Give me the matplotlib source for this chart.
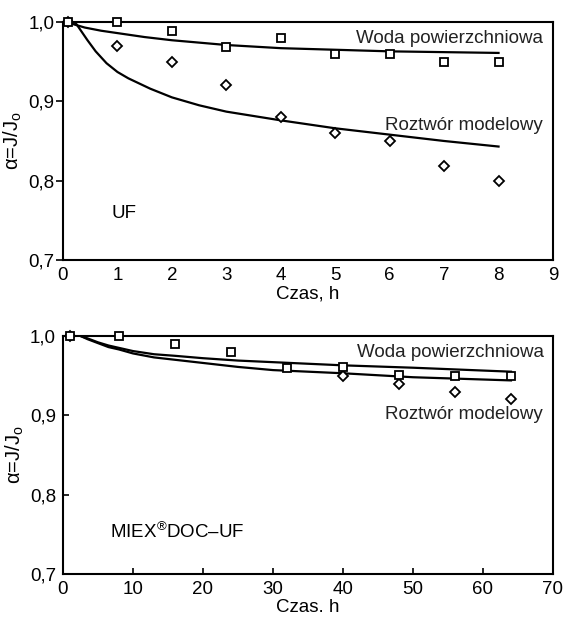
import numpy as np
import matplotlib
matplotlib.use("Agg")
import matplotlib.pyplot as plt
from matplotlib.ticker import FuncFormatter

plt.rcParams['font.family'] = ['Liberation Sans', 'DejaVu Sans']
plt.rcParams['mathtext.fontset'] = 'custom'
plt.rcParams['mathtext.rm'] = 'Liberation Sans'

# --- UF (czas w godzinach) ---
uf_t = [0.1, 1, 2, 3, 4, 5, 6, 7, 8]
uf_woda = [1.0, 1.0, 0.989, 0.969, 0.98, 0.96, 0.96, 0.95, 0.95]
uf_rozt_t = [0.1, 1, 2, 3, 4, 5, 6, 7, 8]
uf_rozt = [1.0, 0.97, 0.95, 0.92, 0.88, 0.86, 0.85, 0.818, 0.80]

# krzywe dopasowania
uf_fit_woda_t = [0.1, 0.2, 0.4, 0.7, 1, 1.5, 2, 3, 4, 5, 6, 7, 8]
uf_fit_woda = [1.0, 0.997, 0.993, 0.989, 0.986, 0.981, 0.977, 0.971, 0.967, 0.965, 0.963, 0.962, 0.961]
uf_fit_rozt_t = [0.2, 0.25, 0.3, 0.35, 0.45, 0.6, 0.8, 1.0, 1.2, 1.6, 2, 2.5, 3, 4, 5, 6, 7, 8]
uf_fit_rozt = [1.0, 0.997, 0.992, 0.987, 0.977, 0.963, 0.948, 0.937, 0.929, 0.916, 0.905, 0.895,
               0.887, 0.876, 0.866, 0.858, 0.85, 0.843]

# --- MIEX DOC - UF ---
mx_t = [1, 8, 16, 24, 32, 40, 48, 56, 64]
mx_woda = [1.0, 1.0, 0.99, 0.98, 0.96, 0.961, 0.951, 0.95, 0.95]
mx_rozt_t = [1, 40, 48, 56, 64]
mx_rozt = [1.0, 0.95, 0.94, 0.93, 0.92]

mx_fit_t = [2.5, 3.5, 5, 6.5, 8, 10, 13, 16, 20, 25, 30, 40, 50, 64]
mx_fit_woda = [1.0, 0.997, 0.992, 0.988, 0.985, 0.981, 0.977, 0.975, 0.972, 0.969, 0.967, 0.963, 0.96, 0.955]
mx_fit_rozt = [1.0, 0.996, 0.991, 0.986, 0.983, 0.978, 0.973, 0.97, 0.966, 0.961, 0.957, 0.953, 0.948, 0.944]

fig = plt.figure(figsize=(5.66, 6.23), dpi=100)
ax1 = fig.add_axes([0.1113, 0.5827, 0.8657, 0.382])
ax2 = fig.add_axes([0.1113, 0.0787, 0.8657, 0.382])

fs = 13.5
comma = FuncFormatter(lambda v, p: f"{v:.1f}".replace('.', ','))
sq = dict(linestyle='none', marker='s', markersize=5.8, markerfacecolor='white',
          markeredgecolor='black', markeredgewidth=1.3, clip_on=False, zorder=3)
dm = dict(sq, marker='D', markersize=5.0)

# wykres UF
ax1.plot(uf_fit_woda_t, uf_fit_woda, color='black', lw=1.6)
ax1.plot(uf_fit_rozt_t, uf_fit_rozt, color='black', lw=1.6)
ax1.plot(uf_rozt_t, uf_rozt, **dm)
ax1.plot(uf_t, uf_woda, **sq)
ax1.set_xlim(0, 9)
ax1.set_xticks(range(0, 10))
ax1.set_xlabel('Czas, h', fontsize=fs, labelpad=1)
ax1.tick_params(axis='x', length=0, labelsize=fs, pad=5)
ax1.tick_params(axis='y', length=5, width=1.2, labelsize=fs, pad=1)
ax1.text(7.1, 0.9786, 'Woda powierzchniowa', fontsize=fs, color='#222222',
         ha='center', va='center')
ax1.text(7.37, 0.870, 'Roztwór modelowy', fontsize=fs, color='#222222',
         ha='center', va='center')
ax1.text(0.9, 0.759, 'UF', fontsize=fs, ha='left', va='center')

# wykres MIEX DOC - UF
ax2.plot(mx_fit_t, mx_fit_woda, color='black', lw=1.6)
ax2.plot(mx_fit_t, mx_fit_rozt, color='black', lw=1.6)
ax2.plot(mx_rozt_t, mx_rozt, **dm)
ax2.plot(mx_t, mx_woda, **sq)
ax2.set_xlim(0, 70)
ax2.set_xticks(range(0, 80, 10))
ax2.set_xlabel('Czas. h', fontsize=fs, labelpad=1)
ax2.tick_params(direction='in', length=4, width=1.2, labelsize=fs, pad=5)
ax2.text(55.3, 0.9786, 'Woda powierzchniowa', fontsize=fs, color='#222222',
         ha='center', va='center')
ax2.text(57.3, 0.9004, 'Roztwór modelowy', fontsize=fs, color='#222222',
         ha='center', va='center')
ax2.text(6.7, 0.753, 'MIEX$^{\u00ae}$DOC\u2013UF', fontsize=fs, ha='left', va='center')

for ax in (ax1, ax2):
    ax.set_ylim(0.7, 1.0)
    ax.set_yticks([0.7, 0.8, 0.9, 1.0])
    ax.yaxis.set_major_formatter(comma)
    ax.set_ylabel('α=J/J$_\\mathregular{o}$', fontsize=14.5, labelpad=3)
    for s in ax.spines.values():
        s.set_linewidth(1.5)

fig.savefig('out.png', dpi=100)
